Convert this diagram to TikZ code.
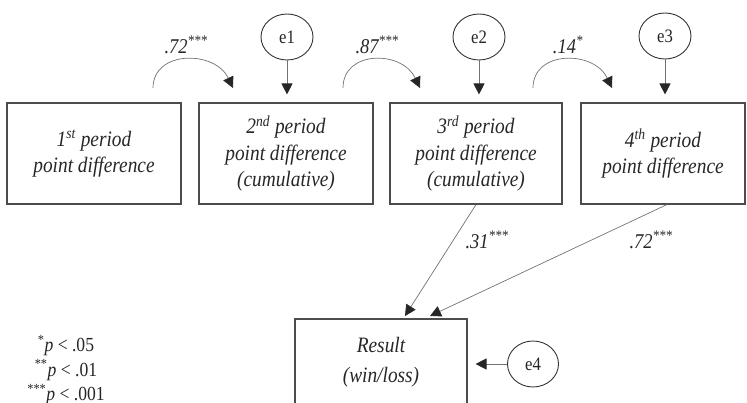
\documentclass[tikz,border=0pt]{standalone}
\usepackage{fontspec}
\setmainfont{Liberation Serif}[FakeStretch=0.88]
\usetikzlibrary{arrows.meta,shapes.geometric}

\begin{document}
\begin{tikzpicture}[x=1pt,y=1pt,
        box/.style={draw=black!70,line width=1.1pt,minimum height=101pt,
            align=center,inner sep=0pt,text=black!85,
            font=\fontsize{22}{26.5}\selectfont\itshape},
        err/.style={draw=black!80,ellipse,line width=0.9pt,inner sep=0pt,
            minimum width=52pt,minimum height=46pt,text=black!85,
            font=\fontsize{19}{20}\selectfont},
        link/.style={draw=black!55,line width=0.7pt,
            -{Triangle[length=11pt,width=11pt,color=black!85]}},
        coef/.style={text=black!85,font=\fontsize{21}{22}\selectfont\itshape}]
    \useasboundingbox (0,0) rectangle (747,402);
    \clip (0,0) rectangle (747,402);
    % observed variables
    \node[box,minimum width=174pt] (b1) at (94,248.5)
        {1\textsuperscript{st} period\\point difference};
    \node[box,minimum width=174pt] (b2) at (286,248.5)
        {2\textsuperscript{nd} period\\point difference\\(cumulative)};
    \node[box,minimum width=172pt] (b3) at (476,248.5)
        {3\textsuperscript{rd} period\\point difference\\(cumulative)};
    \node[box,minimum width=164pt] (b4) at (663,248.5)
        {4\textsuperscript{th} period\\point difference};
    \node[box,minimum width=172pt,minimum height=86pt] (res) at (381,40)
        {Result\\[3pt](win/loss)};
    % error terms
    \node[err] (e1) at (287,365) {e1};
    \node[err] (e2) at (479,365) {e2};
    \node[err] (e3) at (665,366) {e3};
    \node[err,minimum width=51pt] (e4) at (533,38) {e4};
    \draw[link,shorten >=8pt]
        (e1.south) -- (e1.south |- b2.north);
    \draw[link,shorten >=8pt]
        (e2.south) -- (e2.south |- b3.north);
    \draw[link,shorten >=8pt]
        (e3.south) -- (e3.south |- b4.north);
    \draw[link,shorten >=8pt]
        (e4.west) -- (e4.west -| res.east);
    % autoregressive paths
    \coordinate (c1a) at (153,314);
    \coordinate (c1b) at (233,314);
    \coordinate (c2a) at (343,314);
    \coordinate (c2b) at (420,314);
    \coordinate (c3a) at (533,314);
    \coordinate (c3b) at (612,314);
    \draw[link]
        (c1a) .. controls (153,352) and (215,352) .. (c1b);
    \draw[link]
        (c2a) .. controls (343,352) and (402,352) .. (c2b);
    \draw[link]
        (c3a) .. controls (533,352) and (594,352) .. (c3b);
    \node[coef] (k1) at (186,357) {.72\textsuperscript{***}};
    \node[coef] (k2) at (377,357) {.87\textsuperscript{***}};
    \node[coef] (k3) at (568,357) {.14\textsuperscript{*}};
    % paths to result
    \coordinate (r3) at (405,86);
    \coordinate (r4) at (430,86);
    \draw[link]
        (b3.south) -- (r3);
    \draw[link]
        ([xshift=4pt]b4.south) -- (r4);
    \node[coef] (k4) at (487,162) {.31\textsuperscript{***}};
    \node[coef] (k5) at (651,162) {.72\textsuperscript{***}};
    % significance key
    \node[align=center,text=black!85,font=\fontsize{20}{24.5}\selectfont]
        (key) at (66,32)
        {\textsuperscript{*}\textit{p} < .05\\
         \textsuperscript{**}\textit{p} < .01\\
         \textsuperscript{***}\textit{p} < .001};
\end{tikzpicture}
\end{document}
